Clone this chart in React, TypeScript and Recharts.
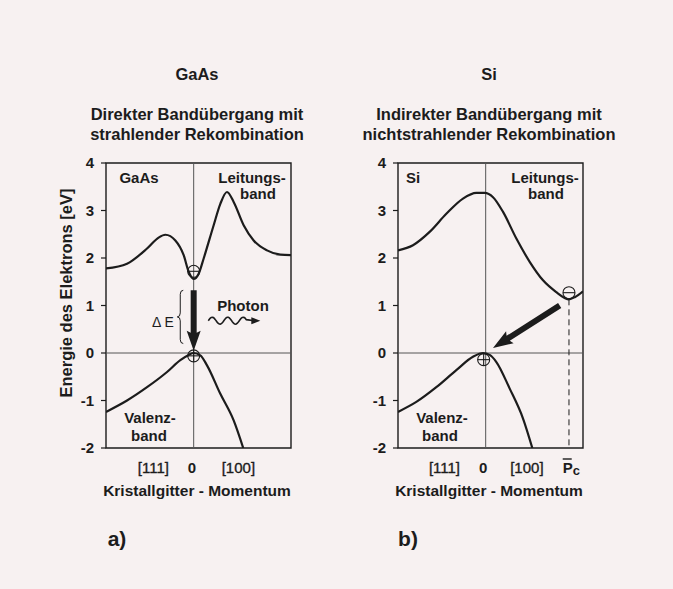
import React from "react";
import {
  LineChart,
  Line,
  XAxis,
  YAxis,
  ReferenceLine,
  ReferenceDot,
  ReferenceArea,
} from "recharts";

/* ---------- Data ---------- */

// GaAs: Leitungsband (conduction) and Valenzband (valence), momentum k vs energy in eV
const gaasCondK = [-1, -0.76, -0.532, -0.4, -0.323, -0.209, -0.114, -0.057, 0, 0.057, 0.114, 0.228, 0.304, 0.38, 0.456, 0.57, 0.684, 0.836, 0.988, 1.11];
const gaasCondE = [1.78, 1.88, 2.2, 2.43, 2.49, 2.37, 2.06, 1.71, 1.56, 1.67, 1.99, 2.69, 3.14, 3.39, 3.18, 2.69, 2.37, 2.16, 2.07, 2.06];
const gaasValK = [-1, -0.76, -0.532, -0.304, -0.152, -0.057, 0, 0.076, 0.152, 0.304, 0.456, 0.565];
const gaasValE = [-1.24, -1.0, -0.72, -0.4, -0.15, -0.04, 0, -0.05, -0.26, -0.86, -1.42, -2.0];

// Si
const siCondK = [-1, -0.829, -0.639, -0.449, -0.259, -0.107, -0.012, 0.084, 0.198, 0.35, 0.502, 0.654, 0.806, 0.9, 0.95, 1.02, 1.11];
const siCondE = [2.16, 2.27, 2.55, 2.93, 3.25, 3.37, 3.37, 3.28, 2.97, 2.41, 1.92, 1.53, 1.28, 1.16, 1.13, 1.18, 1.3];
const siValK = [-1, -0.791, -0.563, -0.335, -0.145, -0.03, 0.046, 0.122, 0.274, 0.426, 0.532];
const siValE = [-1.24, -1.03, -0.72, -0.36, -0.08, 0, -0.04, -0.19, -0.75, -1.38, -2.0];

// axis ticks
const energyTicks = [-2, -1, 0, 1, 2, 3, 4];
const gaasMomentumTicks = [-0.46, -0.02, 0.51];
const gaasMomentumLabels = ["[111]", "0", "[100]"];
const siMomentumTicks = [-0.47, -0.03, 0.47, 0.97];
const siMomentumLabels = ["[111]", "0", "[100]", "Pc"];

const zip = (k: number[], e: number[]) => k.map((x, i) => ({ k: x, e: e[i] }));

/* ---------- Styles ---------- */

const FONT = "'Liberation Sans', Arial, Helvetica, sans-serif";
const INK = "#1c1c1c";
const PAPER = "#f7f1f1";
const K_DOMAIN: [number, number] = [-1, 1.11];

/* ---------- Shapes ---------- */

const thickArrow = (p: any) => {
  const { x1, y1, x2, y2 } = p;
  const dx = x2 - x1;
  const dy = y2 - y1;
  const len = Math.hypot(dx, dy) || 1;
  const ux = dx / len;
  const uy = dy / len;
  const nx = -uy;
  const ny = ux;
  const head = 18;
  const hw = 7;
  const sw = 3;
  const bx = x2 - ux * head;
  const by = y2 - uy * head;
  const pts = [
    [x1 + nx * sw, y1 + ny * sw],
    [bx + nx * sw, by + ny * sw],
    [bx + nx * hw - ux * 2, by + ny * hw - uy * 2],
    [x2, y2],
    [bx - nx * hw - ux * 2, by - ny * hw - uy * 2],
    [bx - nx * sw, by - ny * sw],
    [x1 - nx * sw, y1 - ny * sw],
  ];
  return <polygon points={pts.map((q) => q.join(",")).join(" ")} fill={INK} />;
};

const photonWave = (p: any) => {
  const { x1, y1, x2 } = p;
  const waveEnd = x1 + (x2 - x1) * 0.74;
  let d = `M${x1},${y1}`;
  for (let x = x1 + 1; x <= waveEnd; x += 1) {
    d += ` L${x},${y1 - 3.5 * Math.sin(((x - x1) / 15.5) * 2 * Math.PI)}`;
  }
  d += ` L${x2 - 6},${y1}`;
  return (
    <g>
      <path d={d} fill="none" stroke={INK} strokeWidth={1.6} />
      <polygon points={`${x2},${y1} ${x2 - 9},${y1 - 3.5} ${x2 - 9},${y1 + 3.5}`} fill={INK} />
    </g>
  );
};

const brace = (p: any) => {
  const { x1, y1, y2 } = p;
  const top = Math.min(y1, y2);
  const bot = Math.max(y1, y2);
  const mid = (top + bot) / 2;
  const d = `M${x1 + 3},${top} Q${x1},${top} ${x1},${top + 4} L${x1},${mid - 4} Q${x1},${mid} ${x1 - 3},${mid} Q${x1},${mid} ${x1},${mid + 4} L${x1},${bot - 4} Q${x1},${bot} ${x1 + 3},${bot}`;
  return <path d={d} fill="none" stroke={INK} strokeWidth={1} />;
};

const chargeDot = (sign: "-" | "+") => (p: any) => {
  const { cx, cy } = p;
  return (
    <g>
      <circle cx={cx} cy={cy} r={6} fill="none" stroke={INK} strokeWidth={1.1} />
      <line x1={cx - 6} y1={cy} x2={cx + 6} y2={cy} stroke={INK} strokeWidth={1.1} />
      {sign === "+" && <line x1={cx} y1={cy - 6} x2={cx} y2={cy + 6} stroke={INK} strokeWidth={1.1} />}
    </g>
  );
};

const momentumTick = (ticks: number[], labels: string[]) => (p: any) => {
  const { x, y, payload } = p;
  const i = ticks.indexOf(payload.value);
  const label = labels[i] ?? "";
  const base = y + 17;
  if (label === "Pc") {
    return (
      <g>
        <line x1={x - 8} y1={base - 14} x2={x + 1} y2={base - 14} stroke={INK} strokeWidth={1.4} />
        <text x={x - 8} y={base} fontFamily={FONT} fontSize={15} fontWeight="bold" fill={INK}>
          P<tspan dy={2} fontSize={13}>c</tspan>
        </text>
      </g>
    );
  }
  return (
    <text
      x={x}
      y={base}
      textAnchor="middle"
      fontFamily={FONT}
      fontSize={15}
      fontWeight={label === "0" ? "bold" : "normal"}
      fill={INK}
      stroke={label === "0" ? "none" : INK}
      strokeWidth={0.35}
    >
      {label}
    </text>
  );
};

/* ---------- Panel ---------- */

type PanelProps = {
  left: number;
  cond: { k: number; e: number }[];
  val: { k: number; e: number }[];
  ticks: number[];
  labels: string[];
  children?: React.ReactNode;
};

function Panel({ left, cond, val, ticks, labels, children }: PanelProps) {
  return (
    <div style={{ position: "absolute", left, top: 0 }}>
      <LineChart width={336} height={589} margin={{ top: 163, right: 45, bottom: 111, left: 71 }}>
        <XAxis
          dataKey="k"
          type="number"
          domain={K_DOMAIN}
          ticks={ticks}
          interval={0}
          allowDataOverflow
          axisLine={false}
          tickLine={false}
          height={30}
          tick={momentumTick(ticks, labels)}
        />
        <YAxis
          type="number"
          domain={[-2, 4]}
          ticks={energyTicks}
          interval={0}
          allowDataOverflow
          width={35}
          axisLine={false}
          tickLine={{ stroke: INK, strokeWidth: 1.2 }}
          tickSize={5}
          tickMargin={7}
          tick={{ fontSize: 15, fontWeight: "bold", fill: INK, fontFamily: FONT }}
        />
        <ReferenceArea x1={-1} x2={1.11} y1={-2} y2={4} fill="none" stroke={INK} strokeWidth={1.4} fillOpacity={0} />
        <ReferenceLine x={0} stroke="#555" strokeWidth={1} />
        <ReferenceLine y={0} stroke="#555" strokeWidth={1} />
        <Line data={cond} dataKey="e" type="monotone" stroke={INK} strokeWidth={2.2} dot={false} isAnimationActive={false} />
        <Line data={val} dataKey="e" type="monotone" stroke={INK} strokeWidth={2.2} dot={false} isAnimationActive={false} />
        {children}
      </LineChart>
    </div>
  );
}

/* ---------- Text helper ---------- */

function T({
  x,
  y,
  size = 15,
  bold = true,
  rotate = 0,
  children,
}: {
  x: number;
  y: number;
  size?: number;
  bold?: boolean;
  rotate?: number;
  children: React.ReactNode;
}) {
  return (
    <span
      style={{
        position: "absolute",
        left: x,
        top: y,
        transform: `translate(-50%, -50%) rotate(${rotate}deg)`,
        whiteSpace: "nowrap",
        fontFamily: FONT,
        fontSize: size,
        fontWeight: bold ? "bold" : "normal",
        lineHeight: 1,
        color: INK,
      }}
    >
      {children}
    </span>
  );
}

/* ---------- App ---------- */

export default function App() {
  return (
    <div style={{ position: "fixed", left: 0, top: 0, width: 673, height: 589, background: PAPER, overflow: "hidden" }}>
      <Panel left={0} cond={zip(gaasCondK, gaasCondE)} val={zip(gaasValK, gaasValE)} ticks={gaasMomentumTicks} labels={gaasMomentumLabels}>
        <ReferenceLine segment={[{ x: 0, y: 1.32 }, { x: 0, y: 0.05 }]} shape={thickArrow} ifOverflow="visible" />
        <ReferenceLine segment={[{ x: -0.153, y: 1.32 }, { x: -0.153, y: 0.2 }]} shape={brace} ifOverflow="visible" />
        <ReferenceLine segment={[{ x: 0.167, y: 0.68 }, { x: 0.76, y: 0.68 }]} shape={photonWave} ifOverflow="visible" />
        <ReferenceDot x={0} y={1.72} r={6} shape={chargeDot("-")} ifOverflow="visible" />
        <ReferenceDot x={0} y={-0.06} r={6} shape={chargeDot("+")} ifOverflow="visible" />
      </Panel>
      <Panel left={292} cond={zip(siCondK, siCondE)} val={zip(siValK, siValE)} ticks={siMomentumTicks} labels={siMomentumLabels}>
        <ReferenceLine segment={[{ x: 0.95, y: 1.13 }, { x: 0.95, y: -2 }]} stroke={INK} strokeWidth={1} strokeDasharray="6 4" />
        <ReferenceLine segment={[{ x: 0.844, y: 1.0 }, { x: 0.0835, y: 0.105 }]} shape={thickArrow} ifOverflow="visible" />
        <ReferenceDot x={0.95} y={1.27} r={6} shape={chargeDot("-")} ifOverflow="visible" />
        <ReferenceDot x={-0.023} y={-0.14} r={6} shape={chargeDot("+")} ifOverflow="visible" />
      </Panel>

      {/* titles */}
      <T x={197} y={74} size={16.5}>GaAs</T>
      <T x={197} y={114} size={16.5}>Direkter Bandübergang mit</T>
      <T x={197} y={134} size={16.5}>strahlender Rekombination</T>
      <T x={489} y={74} size={16.5}>Si</T>
      <T x={489} y={114} size={16.5}>Indirekter Bandübergang mit</T>
      <T x={489} y={134} size={16.5}>nichtstrahlender Rekombination</T>

      {/* axis titles */}
      <T x={66} y={293} size={16.5} rotate={-90}>Energie des Elektrons [eV]</T>
      <T x={197} y={491} size={15.5}>Kristallgitter - Momentum</T>
      <T x={489} y={491} size={15.5}>Kristallgitter - Momentum</T>

      {/* in-plot labels, GaAs */}
      <T x={139} y={177}>GaAs</T>
      <T x={252} y={177}>Leitungs-</T>
      <T x={258} y={193}>band</T>
      <T x={150} y={417}>Valenz-</T>
      <T x={149} y={435}>band</T>
      <T x={243} y={305}>Photon</T>
      <T x={163} y={322} bold={false} size={14}>Δ E</T>

      {/* in-plot labels, Si */}
      <T x={413} y={177}>Si</T>
      <T x={545} y={177}>Leitungs-</T>
      <T x={546} y={193}>band</T>
      <T x={442} y={417}>Valenz-</T>
      <T x={440} y={435}>band</T>

      {/* panel letters */}
      <T x={117} y={538} size={21}>a)</T>
      <T x={408} y={538} size={21}>b)</T>
    </div>
  );
}
